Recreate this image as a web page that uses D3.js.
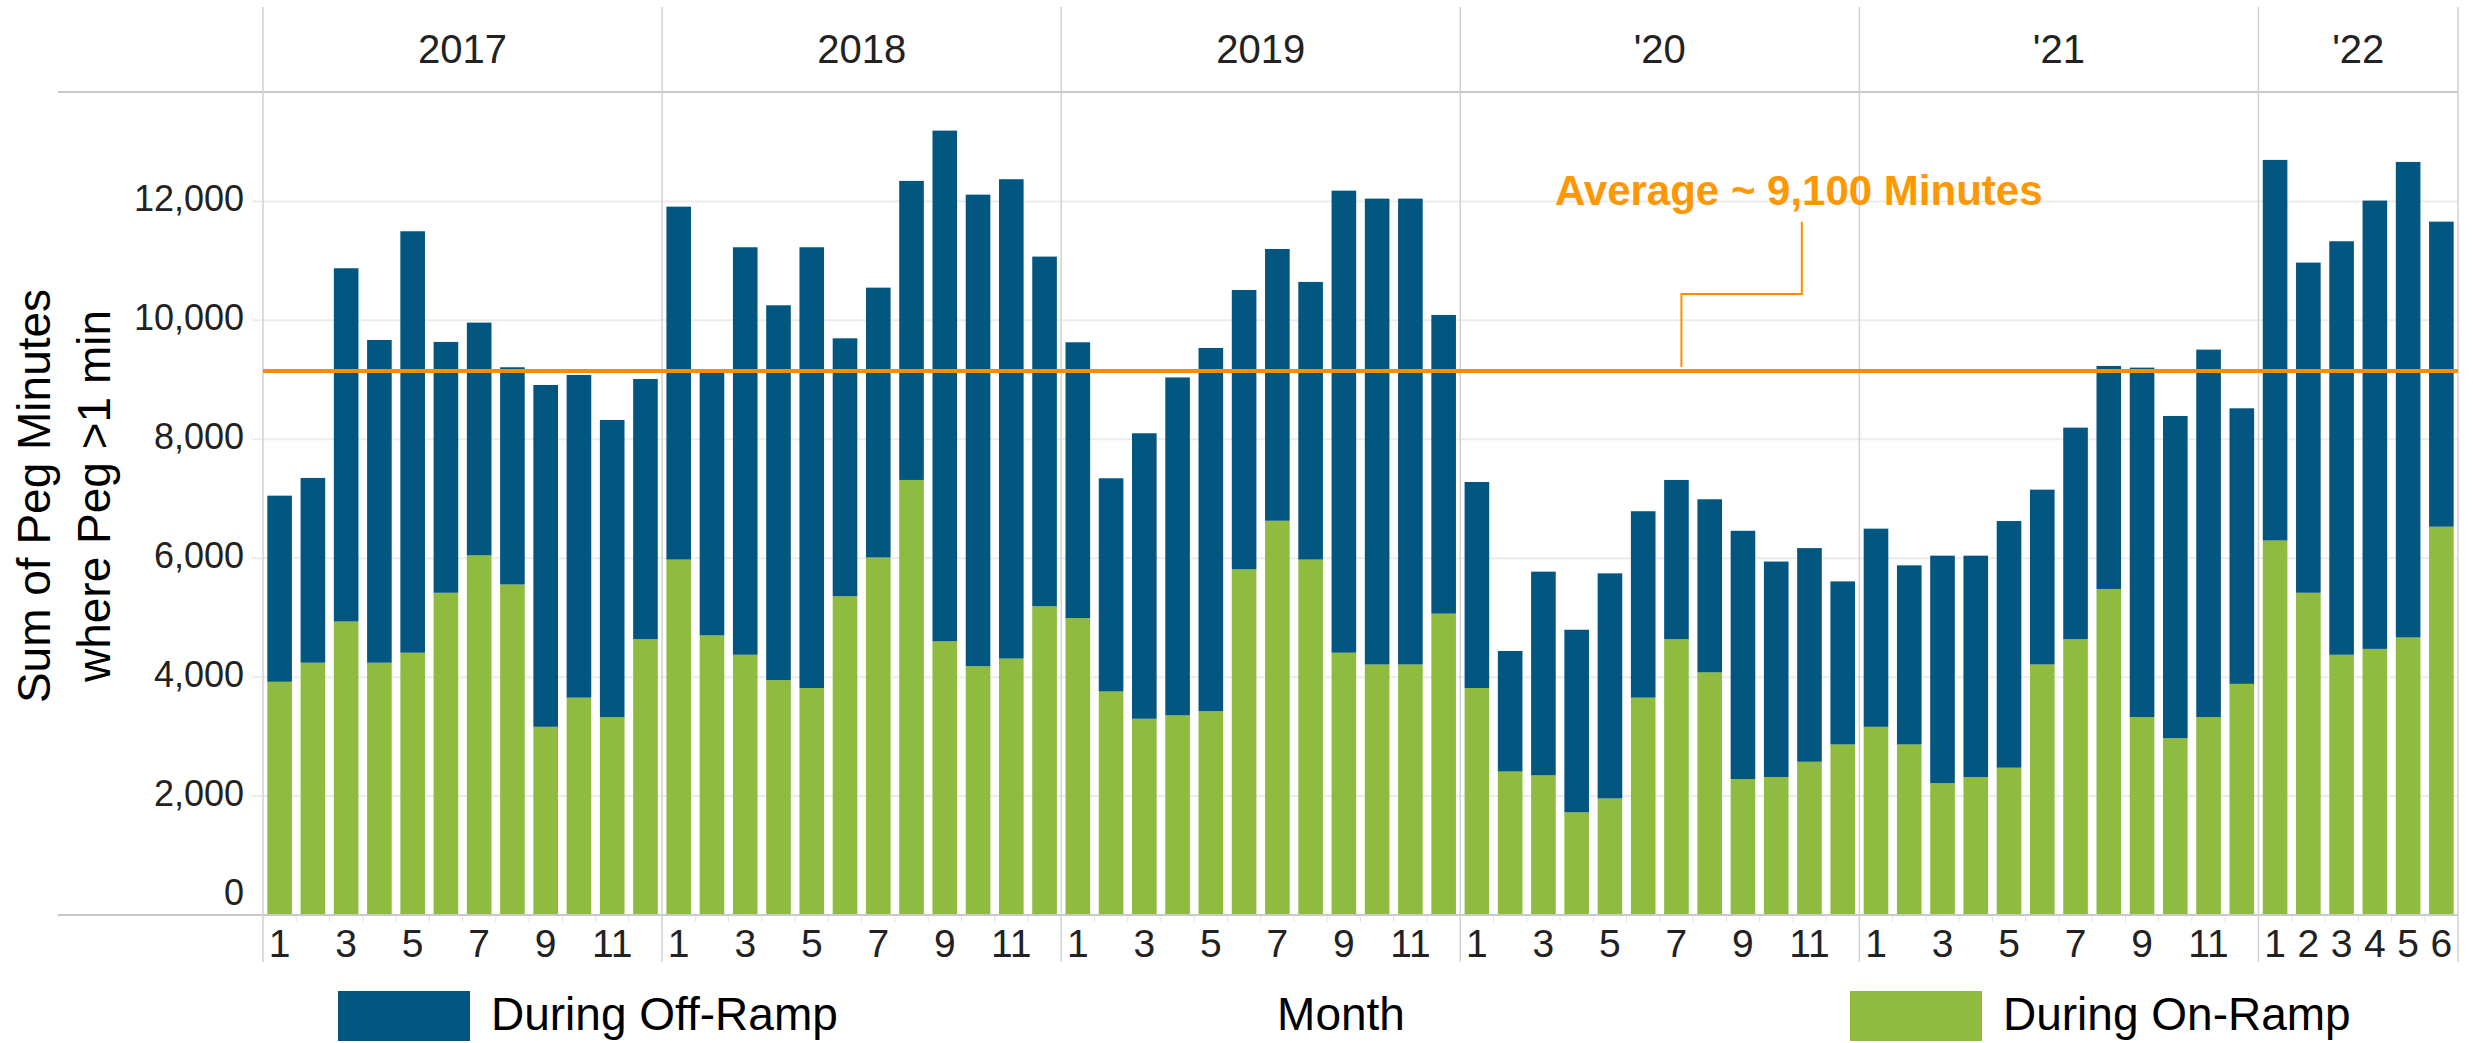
<!DOCTYPE html>
<html><head><meta charset="utf-8">
<script src="https://cdn.jsdelivr.net/npm/d3@7"></script>
<style>
body{margin:0;background:#fff;}
text{font-family:"Liberation Sans",Arial,sans-serif;}
</style>
</head><body>
<svg id="chart" width="2473" height="1043"></svg>
<script>
// ---------------- DATA ----------------
const years = ["2017", "2018", "2019", "'20", "'21", "'22"];
const monthsPerYear = [12, 12, 12, 12, 12, 6];
const seriesNames = ["During On-Ramp", "During Off-Ramp"];
const onRamp = [
  3922, 4243, 4936, 4243, 4411, 5419, 6048, 5558, 3165, 3655, 3328, 4638,
  5977, 4702, 4376, 3950, 3817, 5360, 6012, 7316, 4603, 4184, 4312, 5192,
  4993, 3759, 3300, 3357, 3427, 5814, 6630, 5977, 4411, 4213, 4213, 5068,
  3817, 2413, 2349, 1727, 1960, 3655, 4638, 4080, 2286, 2321, 2577, 2868,
  3165, 2868, 2217, 2321, 2477, 4213, 4638, 5483, 3328, 2974, 3328, 3887,
  6298, 5419, 4376, 4475, 4667, 6530
];
const offRamp = [
  3130, 3107, 5940, 5427, 7087, 4218, 3914, 3653, 5748, 5427, 4997, 4376,
  5935, 4418, 6853, 6303, 7412, 4338, 4538, 5029, 8588, 7930, 8061, 5880,
  4638, 3585, 4801, 5683, 6109, 4697, 4570, 4669, 7770, 7834, 7834, 5023,
  3465, 2027, 3425, 3070, 3785, 3135, 2678, 2911, 4175, 3623, 3593, 2742,
  3332, 3012, 3826, 3722, 4148, 2940, 3558, 3750, 5877, 5418, 6180, 4634,
  6400, 5552, 6954, 7539, 7997, 5130
];
const yTicks = [0, 2000, 4000, 6000, 8000, 10000, 12000];
const averageValue = 9150;
const averageLabel = "Average ~ 9,100 Minutes";
const yTitle = ["Sum of Peg Minutes", "where Peg >1 min"];
const xTitle = "Month";

// ---------------- BUILD ----------------
const rows = [];
years.forEach((yr, yi) => {
  for (let m = 1; m <= monthsPerYear[yi]; m++) {
    const i = rows.length;
    rows.push({i, yi, year: yr, month: m, on: onRamp[i], off: offRamp[i]});
  }
});

const C = {blue: "#035680", green: "#8ebb40", orange: "#ff8c00", orangeText: "#ff9700", grid: "#ececec", axis: "#c9c9c9", div: "#d2d2d2", text: "#222"};
const L = {left: 263, right: 2458, top: 92, base: 915, frameTop: 7, frameBottom: 962, lineLeft: 58};

const svg = d3.select("#chart");
svg.append("rect").attr("width", 2473).attr("height", 1043).attr("fill", "#fff");

const x = d3.scaleBand().domain(rows.map(d => d.i)).range([L.left, L.right])
  .paddingInner(0.26).paddingOuter(0.13);
const y = d3.scaleLinear().domain([0, 13840]).range([L.base, L.top]);
const step = x.step();
const bound = i => L.left + i * step;
const center = i => x(i) + x.bandwidth() / 2;

// gridlines
svg.append("g").selectAll("line").data(yTicks.filter(t => t > 0)).join("line")
  .attr("x1", 252).attr("x2", L.right).attr("y1", d => y(d)).attr("y2", d => y(d))
  .attr("stroke", C.grid).attr("stroke-width", 2);

// minor ticks below axis
svg.append("g").selectAll("line").data(d3.range(1, rows.length)).join("line")
  .attr("x1", d => bound(d)).attr("x2", d => bound(d))
  .attr("y1", L.base).attr("y2", L.base + 7)
  .attr("stroke", "#e4e4e4").attr("stroke-width", 1);

// stacked bars
const stack = d3.stack().keys(["on", "off"])(rows);
const colors = {on: C.green, off: C.blue};
svg.append("g").selectAll("g").data(stack).join("g")
  .attr("fill", s => colors[s.key])
  .selectAll("rect").data(s => s).join("rect")
  .attr("x", d => x(d.data.i)).attr("width", x.bandwidth())
  .attr("y", d => y(d[1])).attr("height", d => y(d[0]) - y(d[1]));

// horizontal frame lines
[L.top, L.base].forEach(yy => {
  svg.append("line").attr("x1", L.lineLeft).attr("x2", L.right)
    .attr("y1", yy).attr("y2", yy).attr("stroke", C.axis).attr("stroke-width", 2);
});

// year dividers
const yearStarts = [];
let acc = 0;
monthsPerYear.forEach(n => { yearStarts.push(acc); acc += n; });
const divIdx = yearStarts.concat([acc]);
svg.append("g").selectAll("line").data(divIdx).join("line")
  .attr("x1", d => bound(d)).attr("x2", d => bound(d))
  .attr("y1", L.frameTop).attr("y2", L.frameBottom)
  .attr("stroke", C.div).attr("stroke-width", 1.5);

// year headers
svg.append("g").selectAll("text").data(years).join("text")
  .attr("x", (d, i) => (bound(yearStarts[i]) + bound(yearStarts[i] + monthsPerYear[i])) / 2)
  .attr("y", 63).attr("text-anchor", "middle").attr("font-size", 40).attr("fill", C.text)
  .text(d => d);

// average line
svg.append("line").attr("x1", L.left).attr("x2", L.right)
  .attr("y1", y(averageValue)).attr("y2", y(averageValue))
  .attr("stroke", C.orange).attr("stroke-width", 4);

// annotation connector
const ax1 = bound(42.65), ax2 = bound(46.27);
const conn = [[ax1, y(averageValue) - 4], [ax1, y(10444)], [ax2, y(10444)], [ax2, y(11660)]];
svg.append("path").attr("d", d3.line()(conn)).attr("fill", "none")
  .attr("stroke", C.orange).attr("stroke-width", 2);
svg.append("text").attr("x", 1555).attr("y", 205).attr("font-size", 42).attr("font-weight", "bold")
  .attr("fill", C.orangeText).text(averageLabel);

// y tick labels
svg.append("g").selectAll("text").data(yTicks).join("text")
  .attr("x", 244).attr("y", d => d === 0 ? 905 : y(d) + 10)
  .attr("text-anchor", "end").attr("font-size", 36).attr("fill", C.text)
  .text(d => d3.format(",")(d));

// x tick labels
const xLabelRows = rows.filter(d => monthsPerYear[d.yi] < 12 || d.month % 2 === 1);
svg.append("g").selectAll("text").data(xLabelRows).join("text")
  .attr("x", d => center(d.i)).attr("y", 957).attr("text-anchor", "middle")
  .attr("font-size", 39).attr("fill", C.text).text(d => d.month);

// y title
const yt = svg.append("text").attr("transform", "translate(0,496) rotate(-90)")
  .attr("text-anchor", "middle").attr("font-size", 46).attr("fill", "#000");
yt.append("tspan").attr("x", 0).attr("y", 50).text(yTitle[0]);
yt.append("tspan").attr("x", 0).attr("y", 110).text(yTitle[1]);

// legend + x title
const legend = [
  {name: seriesNames[1], color: C.blue, rx: 338, tx: 491},
  {name: seriesNames[0], color: C.green, rx: 1850, tx: 2003}
];
legend.forEach(l => {
  svg.append("rect").attr("x", l.rx).attr("y", 991).attr("width", 132).attr("height", 50).attr("fill", l.color);
  svg.append("text").attr("x", l.tx).attr("y", 1030).attr("font-size", 46).attr("fill", "#000").text(l.name);
});
svg.append("text").attr("x", 1341).attr("y", 1030).attr("text-anchor", "middle")
  .attr("font-size", 46).attr("fill", "#000").text(xTitle);
</script>
</body></html>
